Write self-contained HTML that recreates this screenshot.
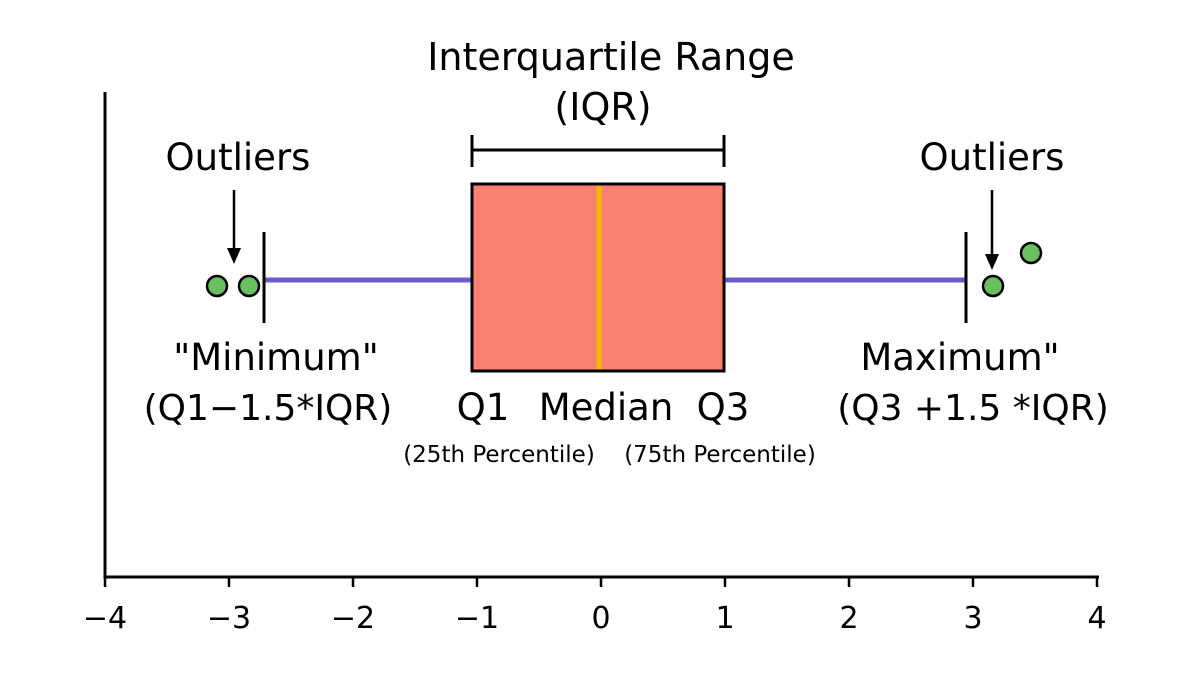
<!DOCTYPE html>
<html><head><meta charset="utf-8"><style>
html,body{margin:0;padding:0;background:#fff;}
svg{display:block;font-family:"DejaVu Sans","Liberation Sans",sans-serif;}
</style></head><body>
<svg width="1200" height="675" viewBox="0 0 1200 675">
<rect width="1200" height="675" fill="#fff"/>
<line x1="105" y1="92" x2="105" y2="579" stroke="#000" stroke-width="3"/>
<line x1="104" y1="577" x2="1099" y2="577" stroke="#000" stroke-width="3"/>
<g stroke="#000" stroke-width="2.5">
<line x1="105" y1="577" x2="105" y2="587"/><line x1="229" y1="577" x2="229" y2="587"/>
<line x1="353" y1="577" x2="353" y2="587"/><line x1="477" y1="577" x2="477" y2="587"/>
<line x1="601" y1="577" x2="601" y2="587"/><line x1="725" y1="577" x2="725" y2="587"/>
<line x1="849" y1="577" x2="849" y2="587"/><line x1="973" y1="577" x2="973" y2="587"/>
<line x1="1097" y1="577" x2="1097" y2="587"/>
</g>
<g font-size="30" text-anchor="middle" fill="#000">
<text x="105" y="628">−4</text><text x="229" y="628">−3</text><text x="353" y="628">−2</text>
<text x="477" y="628">−1</text><text x="601" y="628">0</text><text x="725" y="628">1</text>
<text x="849" y="628">2</text><text x="973" y="628">3</text><text x="1097" y="628">4</text>
</g>
<line x1="264" y1="280" x2="472" y2="280" stroke="#6a5acd" stroke-width="5"/>
<line x1="724" y1="280" x2="966" y2="280" stroke="#6a5acd" stroke-width="5"/>
<line x1="264" y1="232" x2="264" y2="323" stroke="#000" stroke-width="3"/>
<line x1="966" y1="232" x2="966" y2="323" stroke="#000" stroke-width="3"/>
<rect x="472" y="184" width="252" height="187" fill="#fa8072" stroke="#000" stroke-width="3"/>
<line x1="599" y1="185.5" x2="599" y2="369.5" stroke="#f5b800" stroke-width="5"/>
<g stroke="#000" stroke-width="3">
<line x1="472" y1="150" x2="724" y2="150"/>
<line x1="472" y1="135" x2="472" y2="167"/>
<line x1="724" y1="135" x2="724" y2="167"/>
</g>
<g fill="#6abf5e" stroke="#000" stroke-width="2.5">
<circle cx="217" cy="286" r="10"/><circle cx="249" cy="286" r="10"/>
<circle cx="993" cy="286" r="10"/><circle cx="1031" cy="253" r="10"/>
</g>
<g stroke="#000" stroke-width="2.5">
<line x1="234" y1="190" x2="234" y2="252"/><line x1="992" y1="190" x2="992" y2="258"/>
</g>
<polygon points="227,248 241,248 234,264" fill="#000"/>
<polygon points="985,254 999,254 992,270" fill="#000"/>
<g fill="#000" text-anchor="middle">
<text x="611" y="70" font-size="38">Interquartile Range</text>
<text x="603" y="120" font-size="38">(IQR)</text>
<text x="238" y="170" font-size="37">Outliers</text>
<text x="992" y="170" font-size="37">Outliers</text>
<text x="276" y="370" font-size="37">"Minimum"</text>
<text x="268" y="420" font-size="36">(Q1−1.5*IQR)</text>
<text x="960" y="370" font-size="37">Maximum"</text>
<text x="973" y="420" font-size="36">(Q3 +1.5 *IQR)</text>
<text x="483" y="420" font-size="37">Q1</text>
<text x="606" y="420" font-size="37">Median</text>
<text x="723" y="420" font-size="37">Q3</text>
<text x="499" y="462" font-size="23">(25th Percentile)</text>
<text x="720" y="462" font-size="23">(75th Percentile)</text>
</g>
</svg>
</body></html>
